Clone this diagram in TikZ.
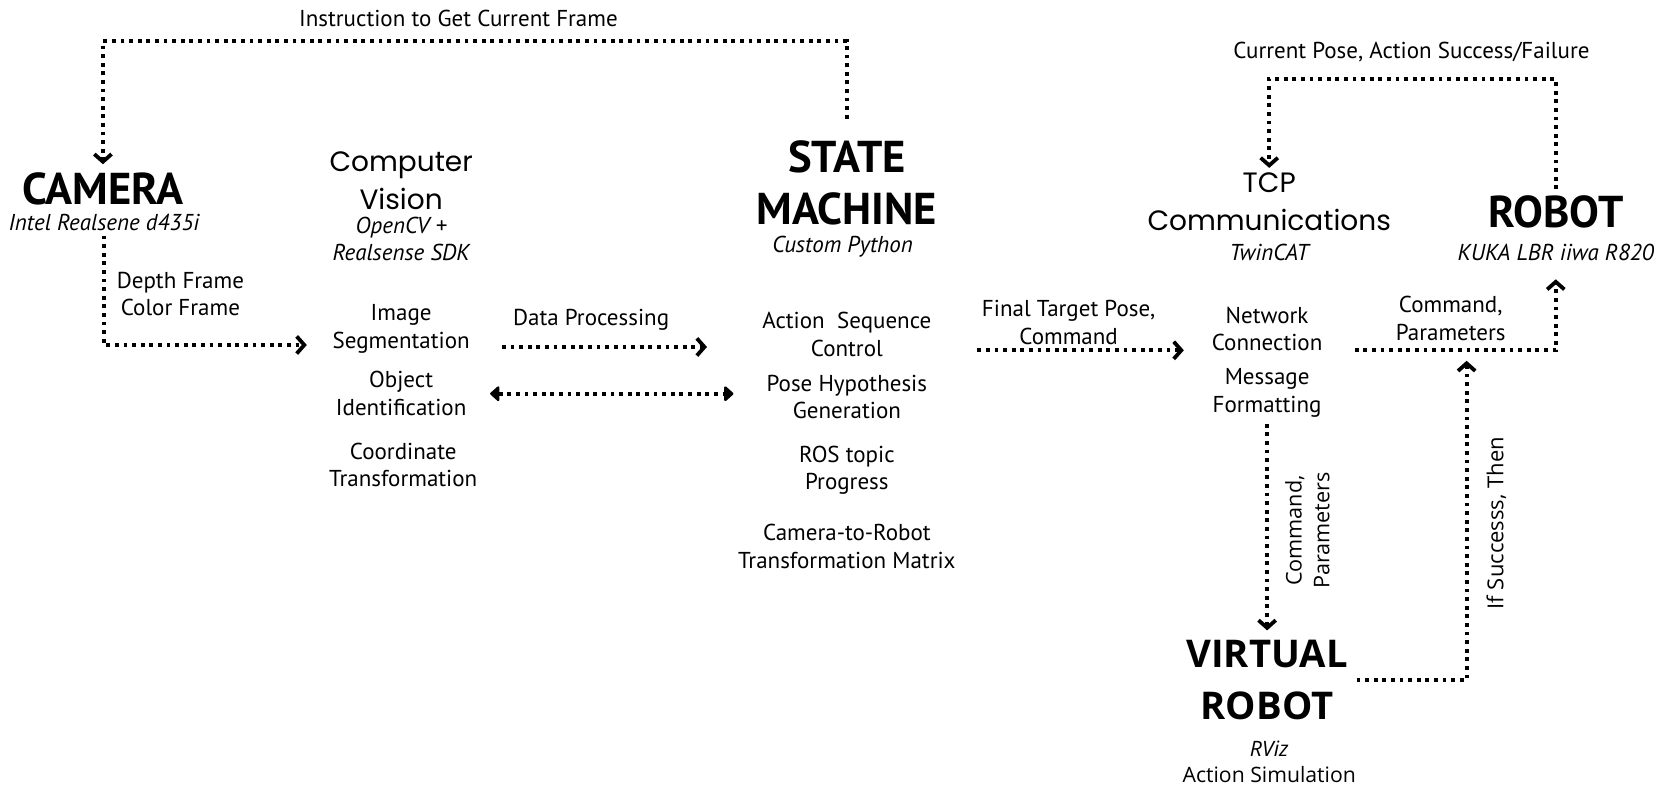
\documentclass[tikz,border=0pt]{standalone}
\usepackage{fontspec}
\setmainfont{PT Sans}
\newfontfamily\popfont{Poppins}
\newfontfamily\opfont{Open Sans}
\usetikzlibrary{arrows.meta}

\begin{document}
\begin{tikzpicture}[x=0.5305pt,y=-0.5305pt]
 \path[fill=white] (0,0) rectangle (1568,747.3);
 \tikzstyle{flow} = [line width=1.9pt,dash pattern=on 1.9pt off 2.4pt]
 \tikzstyle{tip} = [-{Straight Barb[length=3.8pt,width=8.6pt,line width=1.9pt]}]
 \tikzstyle{lbl} = [align=center,inner sep=0pt,font=\fontsize{11.5}{13.8}\selectfont]
 \tikzstyle{sub} = [lbl,font=\fontsize{11.5}{13.8}\selectfont\itshape]
 \tikzstyle{head} = [align=center,inner sep=0pt,font=\fontsize{22.3}{26}\selectfont\bfseries]
 \tikzstyle{title} = [align=center,inner sep=0pt,font=\popfont\fontsize{14}{19.1}\selectfont]
 \tikzstyle{side} = [align=center,inner sep=0pt,font=\opfont\fontsize{10.8}{13.8}\selectfont]
 % camera and vision
 \node[lbl] (instr) at (432,17) {Instruction to Get Current Frame};
 \node[head] (cam) at (97,178) {CAMERA};
 \node[sub] (camsub) at (98,210) {Intel Realsene d435i};
 \node[lbl] (frames) at (170,277) {Depth Frame\\Color Frame};
 \node[title] (cv) at (378,170) {Computer\\Vision};
 \node[sub] (cvsub) at (378,225) {OpenCV +\\Realsense SDK};
 \node[lbl] (seg) at (378,310) {Image\\Segmentation};
 \node[lbl] (objid) at (378,371) {Object\\Identification};
 \node[lbl] (coord) at (380,438) {Coordinate\\Transformation};
 \node[lbl] (dataproc) at (557,301) {Data Processing};
 % state machine
 \node[head] (sm) at (798,172) {STATE\\MACHINE};
 \node[sub] (smsub) at (794,232) {Custom Python};
 \node[lbl] (seq) at (798,315) {Action\ \ Sequence\\Control};
 \node[lbl] (pose) at (798,374) {Pose Hypothesis\\Generation};
 \node[lbl] (ros) at (798,443) {ROS topic\\Progress};
 \node[lbl] (c2r) at (798,515) {Camera-to-Robot\\Transformation Matrix};
 \node[lbl] (final) at (1007,304) {Final Target Pose,\\Command};
 % tcp and robots
 \node[title] (tcp) at (1196,190) {TCP\\Communications};
 \node[sub] (tcpsub) at (1196,238) {TwinCAT};
 \node[lbl] (net) at (1194,310) {Network\\Connection};
 \node[lbl] (msg) at (1194,370) {Message\\Formatting};
 \node[side,rotate=90] (cmdv) at (1232,500) {Command,\\Parameters};
 \node[head,font=\opfont\fontsize{19.1}{26}\selectfont\bfseries] (vr) at (1194,641) {VIRTUAL\\ROBOT};
 \node[side,font=\opfont\fontsize{10.6}{13.3}\selectfont] (vrsub) at (1196,718) {{\itshape RViz}\\Action Simulation};
 \node[side,font=\opfont\fontsize{11}{13.8}\selectfont,rotate=90] (ifok) at (1410,493) {If Successs, Then};
 \node[lbl] (cmdr) at (1367,300) {Command,\\Parameters};
 \node[head] (robot) at (1466,200) {ROBOT};
 \node[sub] (robotsub) at (1466,238) {KUKA LBR iiwa R820};
 \node[lbl] (curpose) at (1330,49) {Current Pose, Action Success/Failure};
 \coordinate (junc) at (1382,330);
 % connectors
 \draw[flow,tip,shorten <=10.6pt,shorten >=4pt] (sm.north) -- ++(0,-93) -| (cam.north);
 \draw[flow,tip,shorten <=2pt,shorten >=12.7pt] (camsub.south) |- ([yshift=-8pt]seg.west);
 \draw[flow,tip,shorten <=16pt,shorten >=27.5pt] ([yshift=-9pt]seg.east) -- ([yshift=-9pt]seg.east -| seq.west);
 \draw[flow,{Triangle[length=5pt,width=8.6pt,round]}-{Triangle[length=5pt,width=8.6pt,round]},shorten <=11.7pt,shorten >=16.4pt] (objid.east) -- (objid.east -| pose.west);
 \draw[flow,tip,shorten <=22.8pt,shorten >=13.8pt] ([yshift=-8pt]seq.east) -- ([yshift=-8pt]seq.east -| net.west);
 \draw[flow,tip,shorten <=3.2pt,shorten >=4.8pt] (msg.south) -- (msg.south |- vr.north);
 \draw[flow,tip,shorten <=4.2pt] (vr.east) -| ([yshift=-5.3pt]junc);
 \draw[flow,tip,shorten <=16pt,shorten >=9pt] ([yshift=-10.6pt]net.east) -| (robotsub.south);
 \draw[flow,tip,shorten <=3.2pt,shorten >=2.1pt] (robot.north) -- ++(0,-110) -| (tcp.north);
\end{tikzpicture}
\end{document}
